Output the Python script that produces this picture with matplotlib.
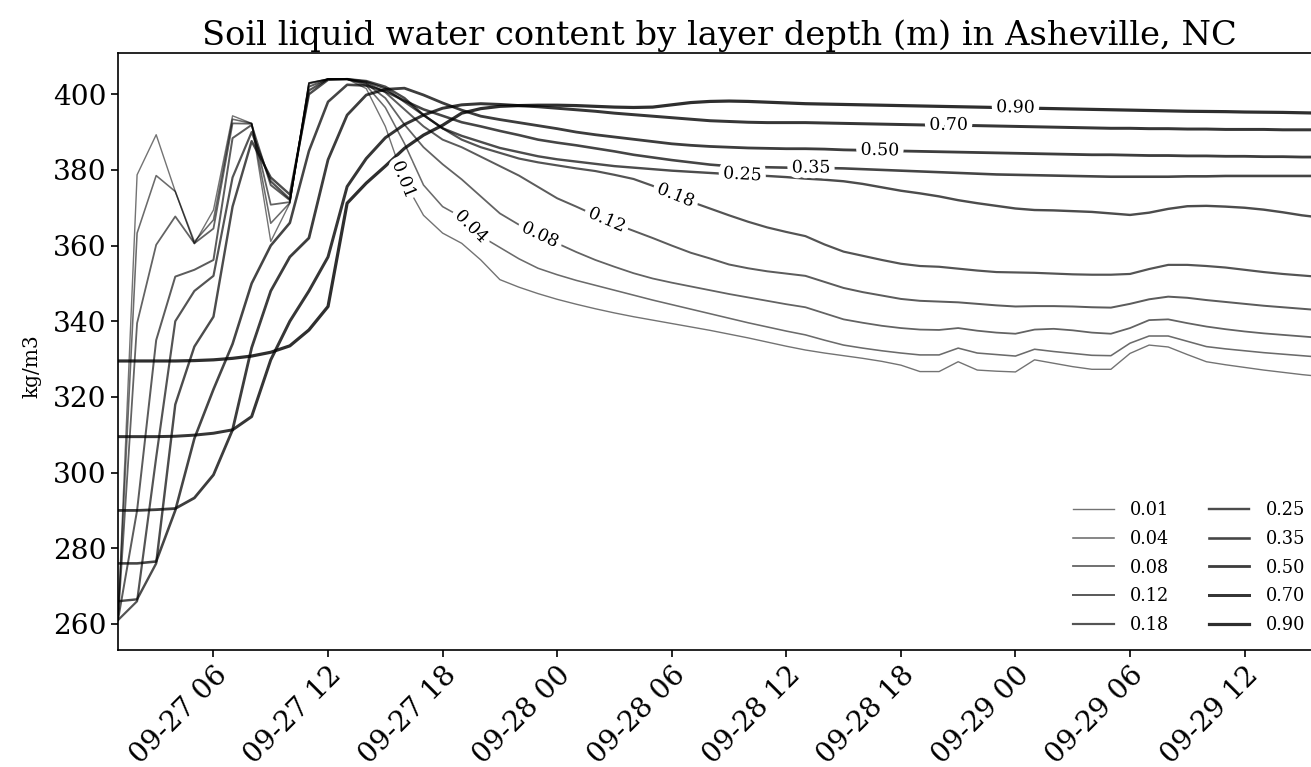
import numpy as np
import pandas as pd
import matplotlib
matplotlib.use('Agg')
import matplotlib.pyplot as plt
import matplotlib.dates as mdates
import matplotlib.patheffects as pe

plt.rcParams['font.family'] = 'DejaVu Serif'

# hourly values, 09-27 01:00 onward
times = pd.date_range('2024-09-27 01:00', periods=64, freq='h')
depths = ['0.01', '0.04', '0.08', '0.12', '0.18', '0.25', '0.35', '0.50', '0.70', '0.90']

swc_001 = [261.0, 378.7, 389.3, 374.3, 360.5, 369.4, 394.3, 392.3, 361.1, 371.2,
           403.0, 404.0, 404.0, 401.5, 391.5, 377.0, 368.0, 363.3, 360.6, 356.2,
           351.0, 349.0, 347.3, 345.8, 344.5, 343.3, 342.2, 341.2, 340.3, 339.4,
           338.5, 337.6, 336.6, 335.6, 334.5, 333.4, 332.4, 331.6, 330.9, 330.2,
           329.4, 328.4, 326.7, 326.7, 329.3, 327.1, 326.8, 326.6, 329.8, 328.9,
           328.0, 327.3, 327.3, 331.5, 333.7, 333.2, 331.2, 329.3, 328.5, 327.8,
           327.1, 326.5, 325.9, 325.4]
swc_004 = [261.0, 363.3, 378.5, 374.3, 361.0, 366.8, 393.4, 392.3, 365.9, 371.3,
           403.0, 404.0, 404.0, 402.3, 396.5, 387.0, 376.0, 370.3, 367.5, 362.5,
           359.5, 356.5, 354.0, 352.3, 350.8, 349.5, 348.2, 346.9, 345.6, 344.4,
           343.2, 342.0, 340.8, 339.6, 338.5, 337.4, 336.4, 335.0, 333.7, 332.9,
           332.2, 331.6, 331.1, 331.1, 332.9, 331.6, 331.2, 330.8, 332.6, 332.0,
           331.5, 331.0, 330.9, 334.2, 336.1, 336.1, 334.7, 333.3, 332.7, 332.2,
           331.7, 331.3, 330.9, 330.5]
swc_008 = [261.0, 339.5, 360.2, 367.7, 360.6, 364.5, 392.3, 392.2, 370.8, 371.5,
           402.8, 404.0, 404.0, 402.8, 399.0, 392.0, 386.0, 381.5, 377.5, 373.0,
           368.5, 365.5, 363.0, 360.6, 358.3, 356.2, 354.4, 352.7, 351.3, 350.2,
           349.2, 348.2, 347.2, 346.3, 345.4, 344.5, 343.7, 342.1, 340.5, 339.6,
           338.8, 338.2, 337.8, 337.7, 338.2, 337.5, 337.0, 336.7, 337.8, 338.0,
           337.6, 337.0, 336.7, 338.2, 340.3, 340.5, 339.5, 338.6, 337.9, 337.3,
           336.8, 336.4, 336.0, 335.6]
swc_012 = [261.0, 290.0, 335.0, 351.8, 353.6, 356.2, 388.4, 391.9, 376.0, 372.0,
           402.0, 404.0, 404.0, 403.0, 400.5, 396.0, 391.5, 388.0, 386.0, 383.5,
           381.0, 378.5, 375.5, 372.5, 370.3, 368.0, 365.8, 363.9, 362.0, 360.0,
           358.1, 356.6, 355.0, 354.0, 353.2, 352.6, 352.0, 350.4, 348.8, 347.7,
           346.8, 345.9, 345.4, 345.2, 345.0, 344.6, 344.2, 343.9, 344.0, 344.0,
           343.9, 343.7, 343.6, 344.6, 345.8, 346.5, 346.2, 345.6, 345.1, 344.6,
           344.1, 343.7, 343.3, 342.9]
swc_018 = [261.0, 266.0, 304.0, 340.0, 348.0, 352.0, 378.0, 390.0, 377.0, 372.3,
           401.0, 404.0, 404.0, 403.3, 401.5, 398.0, 394.5, 391.0, 388.0, 386.0,
           384.5, 383.0, 382.0, 381.2, 380.4, 379.7, 378.7, 377.6, 375.8, 373.6,
           371.6, 369.8, 368.0, 366.3, 364.8, 363.6, 362.5, 360.3, 358.4, 357.3,
           356.2, 355.2, 354.6, 354.4, 353.9, 353.4, 353.0, 352.9, 352.8, 352.6,
           352.4, 352.3, 352.3, 352.5, 353.8, 354.9, 354.9, 354.6, 354.2, 353.6,
           353.0, 352.5, 352.1, 351.7]
swc_025 = [266.0, 266.5, 276.0, 318.0, 333.3, 341.2, 370.3, 387.6, 378.0, 373.5,
           400.0, 403.8, 404.0, 403.5, 402.0, 399.0, 394.5, 391.0, 389.0, 387.4,
           385.8, 384.7, 383.6, 382.8, 382.2, 381.6, 381.0, 380.6, 380.2, 379.8,
           379.5, 379.2, 378.9, 378.6, 378.4, 378.1, 377.7, 377.4, 377.0, 376.3,
           375.4, 374.5, 373.8, 373.0, 372.0, 371.2, 370.5, 369.8, 369.4, 369.3,
           369.1, 368.9, 368.5, 368.1, 368.7, 369.7, 370.4, 370.5, 370.3, 370.0,
           369.5, 368.8, 368.0, 367.4]
swc_035 = [276.0, 276.0, 276.5, 290.0, 309.0, 322.0, 334.0, 350.0, 360.0, 366.0,
           385.0, 398.0, 402.5, 402.3, 400.8, 398.3, 396.0, 394.3, 392.6, 391.5,
           390.3, 389.2, 388.0, 387.2, 386.5, 385.7, 384.9, 384.0, 383.3, 382.6,
           382.0, 381.4, 381.0, 380.8, 380.7, 380.6, 380.5, 380.5, 380.4, 380.2,
           380.0, 379.8, 379.6, 379.4, 379.2, 379.0, 378.8, 378.7, 378.6, 378.5,
           378.4, 378.3, 378.2, 378.2, 378.2, 378.2, 378.3, 378.3, 378.4, 378.4,
           378.4, 378.4, 378.4, 378.4]
swc_050 = [290.0, 290.0, 290.2, 290.5, 293.3, 299.4, 311.3, 333.0, 348.0, 357.0,
           362.0, 382.7, 394.5, 399.8, 401.3, 401.6, 399.8, 397.7, 395.8, 394.2,
           393.3, 392.5, 391.7, 390.9, 390.0, 389.3, 388.7, 388.1, 387.5, 386.9,
           386.5, 386.2, 386.0, 385.8, 385.7, 385.6, 385.6, 385.5, 385.3, 385.2,
           385.1, 385.0, 384.9, 384.8, 384.7, 384.6, 384.5, 384.4, 384.3, 384.2,
           384.1, 384.0, 384.0, 383.9, 383.8, 383.8, 383.7, 383.7, 383.6, 383.6,
           383.5, 383.5, 383.4, 383.4]
swc_070 = [309.5, 309.5, 309.5, 309.6, 309.9, 310.4, 311.3, 314.8, 329.8, 340.0,
           348.0, 357.0, 375.6, 383.0, 388.5, 392.0, 394.5, 396.3, 397.2, 397.5,
           397.3, 397.0, 396.7, 396.3, 395.9, 395.5, 395.0, 394.6, 394.2, 393.8,
           393.4, 393.0, 392.8, 392.6, 392.5, 392.5, 392.5, 392.4, 392.3, 392.2,
           392.1, 392.0, 391.9, 391.8, 391.8, 391.7, 391.6, 391.5, 391.4, 391.3,
           391.2, 391.1, 391.0, 391.0, 390.9, 390.9, 390.8, 390.8, 390.7, 390.7,
           390.7, 390.6, 390.6, 390.6]
swc_090 = [329.5, 329.5, 329.5, 329.5, 329.6, 329.8, 330.2, 330.8, 331.8, 333.5,
           337.7, 343.9, 371.2, 376.5, 381.0, 385.7, 389.2, 391.8, 395.0, 396.2,
           396.8, 397.0, 397.1, 397.1, 397.0, 396.8, 396.6, 396.5, 396.6, 397.2,
           397.8, 398.1, 398.2, 398.1, 397.9, 397.7, 397.5, 397.4, 397.3, 397.2,
           397.1, 397.0, 396.9, 396.8, 396.7, 396.6, 396.5, 396.4, 396.3, 396.2,
           396.1, 396.0, 395.9, 395.8, 395.7, 395.6, 395.5, 395.45, 395.4, 395.3,
           395.25, 395.2, 395.1, 395.0]

series = [swc_001, swc_004, swc_008, swc_012, swc_018,
          swc_025, swc_035, swc_050, swc_070, swc_090]

# where the inline labels sit (hours after 09-27 00:00)
label_hours = [15.97, 19.5, 23.1, 26.6, 30.2, 33.7, 37.3, 40.9, 44.5, 48.0]

fig = plt.figure(figsize=(13.11, 7.67), dpi=100)
ax = fig.add_axes([0.090, 0.1525, 0.9176, 0.7784])

widths = np.linspace(1.0, 2.3, len(depths))
alphas = np.linspace(0.55, 0.82, len(depths))
for i, (name, vals) in enumerate(zip(depths, series)):
    ax.plot(times, vals, color='k', alpha=alphas[i], lw=widths[i], label=name)

ax.set_xlim(times[0], times[-1])
ax.set_ylim(253.1, 410.9)

ax.xaxis.set_major_locator(mdates.HourLocator(byhour=[0, 6, 12, 18]))
ax.xaxis.set_major_formatter(mdates.DateFormatter('%m-%d %H'))
plt.setp(ax.get_xticklabels(), rotation=45, ha='right', rotation_mode='anchor')
ax.tick_params(labelsize=20.2, length=5, width=1.2)
for s in ax.spines.values():
    s.set_linewidth(1.2)

ax.set_ylabel('kg/m3', fontsize=14.5)
ax.yaxis.set_label_coords(-0.064, 0.475)
ax.set_title('Soil liquid water content by layer depth (m) in Asheville, NC', fontsize=24.3)

# inline labels along each line
xn = mdates.date2num(times)
for name, vals, h in zip(depths, series, label_hours):
    xl = xn[0] + (h - 1) / 24
    yl = np.interp(xl, xn, vals)
    d = 0.004
    p1 = ax.transData.transform((xl - d, np.interp(xl - d, xn, vals)))
    p2 = ax.transData.transform((xl + d, np.interp(xl + d, xn, vals)))
    ang = np.degrees(np.arctan2(p2[1] - p1[1], p2[0] - p1[0]))
    ax.text(xl, yl, name, rotation=ang, rotation_mode='anchor',
            ha='center', va='center', fontsize=12.5, color='k', zorder=5,
            path_effects=[pe.withStroke(linewidth=8, foreground='white')])

ax.legend(loc='lower right', ncol=2, frameon=False, fontsize=12.8,
          handletextpad=0.9, handlelength=2.3, columnspacing=2.2,
          labelspacing=0.6)

fig.savefig('out.png', dpi=100)
